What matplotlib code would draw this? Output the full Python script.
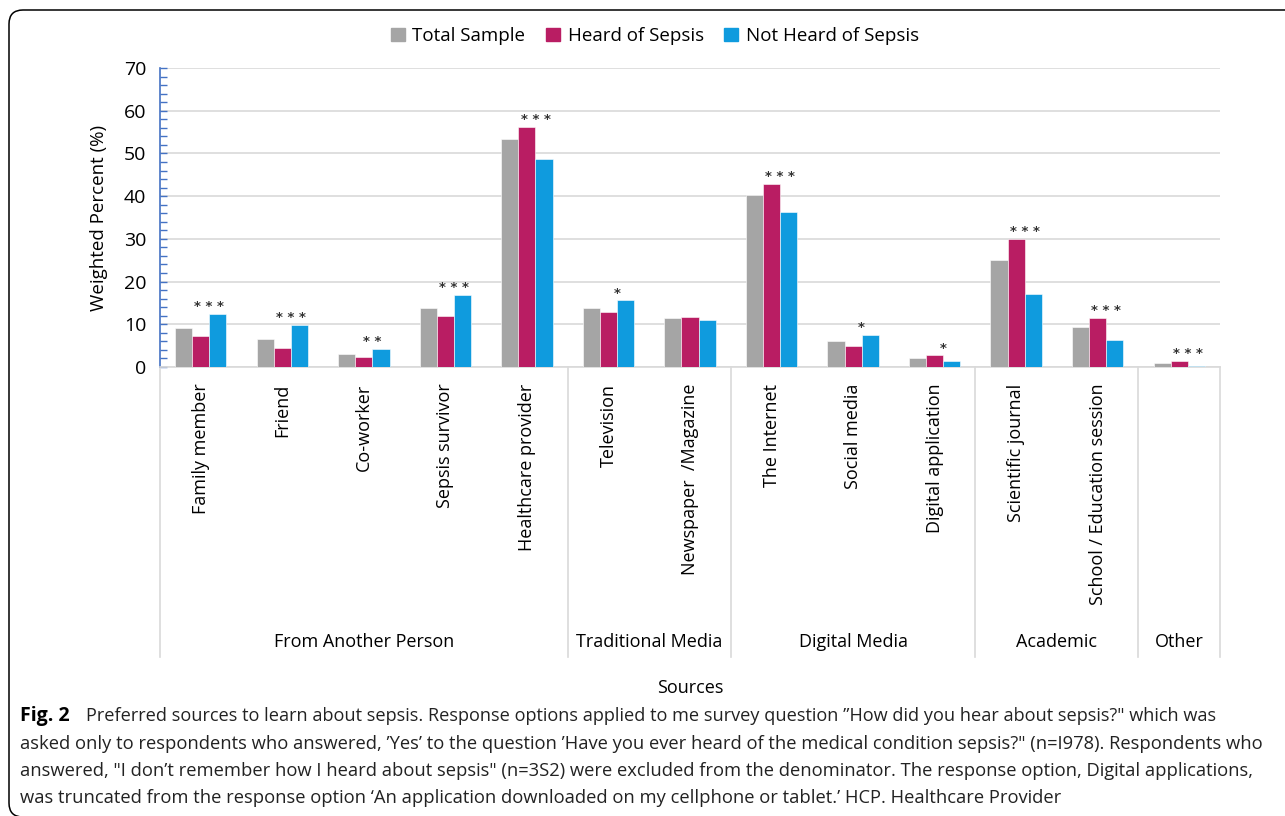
import matplotlib
matplotlib.use("Agg")
import matplotlib.pyplot as plt
import numpy as np
from matplotlib.patches import FancyBboxPatch, Patch
from matplotlib.ticker import MultipleLocator
from matplotlib.transforms import IdentityTransform, blended_transform_factory

plt.rcParams["font.family"] = ["Open Sans", "DejaVu Sans"]

# --- data ---
categories = ["Family member", "Friend", "Co-worker", "Sepsis survivor",
              "Healthcare provider", "Television", "Newspaper  /Magazine",
              "The Internet", "Social media", "Digital application",
              "Scientific journal", "School / Education session", "Other"]
tick_labels = categories[:-1] + [""]
total_sample = [9.2, 6.5, 3.0, 13.9, 53.3, 13.9, 11.5, 40.2, 6.0, 2.1, 25.1, 9.4, 1.0]
heard = [7.3, 4.4, 2.3, 12.0, 56.3, 12.8, 11.6, 42.9, 5.0, 2.7, 30.0, 11.5, 1.5]
not_heard = [12.5, 9.8, 4.3, 16.9, 48.6, 15.6, 11.0, 36.2, 7.5, 1.3, 17.2, 6.3, 0.2]
stars = ["***", "***", "**", "***", "***", "*", "", "***", "*", "*", "***", "***", "***"]

groups = ["From Another Person", "Traditional Media", "Digital Media", "Academic", "Other"]
group_sizes = [5, 2, 3, 2, 1]

series_names = ["Total Sample", "Heard of Sepsis", "Not Heard of Sepsis"]
colors = ["#A5A5A5", "#B91D63", "#0F9BDE"]

W, H = 1285, 816
fig = plt.figure(figsize=(W / 100, H / 100), dpi=100)
ax = fig.add_axes([160 / W, 1 - 367 / H, 1060 / W, 299 / H])

x = np.arange(len(categories))
bw = 0.21
for i, (vals, col, name) in enumerate(zip([total_sample, heard, not_heard], colors, series_names)):
    ax.bar(x + (i - 1) * bw, vals, bw, color=col, edgecolor="white", linewidth=0.4,
           label=name, zorder=3)

# significance markers above each cluster
for xi, s, a, b, c in zip(x, stars, total_sample, heard, not_heard):
    if s:
        ax.text(xi + bw / 2, max(a, b, c) + 0.2, " ".join(s), ha="center", va="bottom",
                fontsize=9.5, color="#333333", family="DejaVu Sans", fontweight="bold")

ax.set_xlim(-0.5, len(categories) - 0.5)
ax.set_ylim(0, 70)
ax.yaxis.set_major_locator(MultipleLocator(10))
ax.yaxis.set_minor_locator(MultipleLocator(2))
ax.grid(axis="y", color="#D9D9D9", lw=1.2, zorder=0)
ax.set_axisbelow(True)
for sp in ["top", "right"]:
    ax.spines[sp].set_visible(False)
ax.spines["left"].set_color("#4472C4")
ax.spines["left"].set_linewidth(1.2)
ax.spines["bottom"].set_color("#D9D9D9")
ax.spines["bottom"].set_linewidth(1.2)
ax.tick_params(axis="y", which="both", direction="in", color="#4472C4", length=5,
               width=1, labelsize=14, pad=10)
ax.tick_params(axis="x", length=0, pad=12)
ax.set_xticks(x)
ax.set_xticklabels(tick_labels, rotation=90, fontsize=13, va="top")
ax.set_ylabel("Weighted Percent (%)", fontsize=13.5, labelpad=11)

# group separators and labels under the category axis
trans = blended_transform_factory(ax.transData, ax.transAxes)
bounds = np.concatenate([[0], np.cumsum(group_sizes)]) - 0.5
for b in bounds:
    ax.plot([b, b], [0, -0.97], color="#D9D9D9", lw=1.2, transform=trans, clip_on=False)
for g, lo, hi in zip(groups, bounds[:-1], bounds[1:]):
    ax.text((lo + hi) / 2, -0.92, g, ha="center", va="center", fontsize=13,
            transform=trans)

fig.text(690 / W, 1 - 688 / H, "Sources", ha="center", va="center", fontsize=13)

handles = [Patch(color=c, label=n) for c, n in zip(colors, series_names)]
fig.legend(handles=handles, loc="center", bbox_to_anchor=(655 / W, 1 - 36 / H),
           ncol=3, frameon=False, fontsize=13.5, handlelength=0.75, handleheight=0.75,
           handletextpad=0.4, columnspacing=1.1)

# caption
caption = [
    "Preferred sources to learn about sepsis. Response options applied to me survey question \u201dHow did you hear about sepsis?\" which was",
    "asked only to respondents who answered, \u2019Yes\u2019 to the question \u2019Have you ever heard of the medical condition sepsis?\" (n=I978). Respondents who",
    "answered, \"I don\u2019t remember how I heard about sepsis\" (n=3S2) were excluded from the denominator. The response option, Digital applications,",
    "was truncated from the response option \u2018An application downloaded on my cellphone or tablet.\u2019 HCP. Healthcare Provider",
]
ys = [716, 744, 771, 798]
fig.text(20 / W, 1 - ys[0] / H, "Fig. 2", fontsize=14, fontweight="bold", va="center")
fig.text(86 / W, 1 - ys[0] / H, caption[0], fontsize=13.1, va="center", color="#222222")
for line, yy in zip(caption[1:], ys[1:]):
    fig.text(20 / W, 1 - yy / H, line, fontsize=13.2, va="center", color="#222222")

# outer rounded frame
frame = FancyBboxPatch((9, -1), 1320, H - 10 + 1, boxstyle="round,pad=0,rounding_size=14",
                       transform=IdentityTransform(), fill=False, ec="black", lw=1.1)
fig.patches.append(frame)

fig.savefig("out.png", dpi=100)
